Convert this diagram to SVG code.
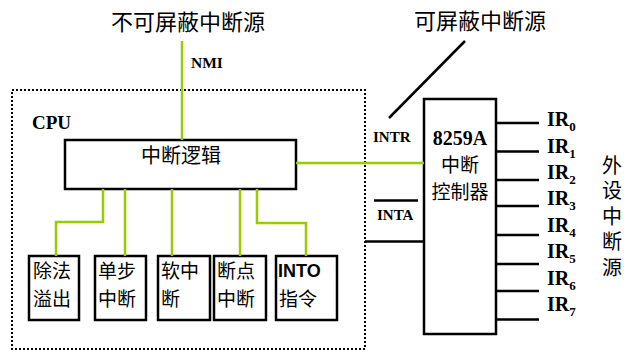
<svg xmlns="http://www.w3.org/2000/svg" width="632" height="357" viewBox="0 0 632 357">
<style>
.cjk{font-family:"Noto Sans CJK SC","Noto Sans",sans-serif;fill:#000}
.ser{font-family:"Liberation Serif",serif;font-weight:bold;fill:#000}
.box{fill:none;stroke:#000;stroke-width:2.5}
.g{fill:none;stroke:#99cc00;stroke-width:2.5}
.k{fill:none;stroke:#000;stroke-width:2.5}
.bt{font-size:19px}
</style>
<rect width="632" height="357" fill="#fff"/>
<g id="cpu-frame">
<rect x="12" y="90" width="353" height="259" fill="none" stroke="#000" stroke-width="2" stroke-dasharray="2,2"/>
<text class="ser" x="32" y="129" font-size="19">CPU</text>
</g>
<g id="nmi-source"><text class="cjk" x="188" y="30" font-size="22" text-anchor="middle">不可屏蔽中断源</text></g>
<g id="mask-source"><text class="cjk" x="480" y="29" font-size="22" text-anchor="middle">可屏蔽中断源</text></g>
<g id="logic">
<rect class="box" x="65" y="140" width="231" height="49" fill="#fff"/>
<text class="cjk" x="181" y="163" font-size="20" text-anchor="middle">中断逻辑</text>
</g>
<g id="pic">
<rect class="box" x="424" y="99" width="72" height="235"/>
<text class="ser" x="460" y="145" font-size="20" text-anchor="middle">8259A</text>
<text class="cjk" x="460" y="171.5" font-size="19" text-anchor="middle">中断</text>
<text class="cjk" x="460" y="199" font-size="19" text-anchor="middle">控制器</text>
</g>
<g id="b1"><rect class="box" x="29" y="256" width="50" height="64"/>
<text class="cjk bt" x="33" y="278">除法</text><text class="cjk bt" x="33" y="305.5">溢出</text></g>
<g id="b2"><rect class="box" x="95" y="256" width="51" height="64"/>
<text class="cjk bt" x="98" y="278">单步</text><text class="cjk bt" x="98" y="305.5">中断</text></g>
<g id="b3"><rect class="box" x="158" y="256" width="52" height="64"/>
<text class="cjk bt" x="161" y="278">软中</text><text class="cjk bt" x="161" y="305.5">断</text></g>
<g id="b4"><rect class="box" x="214" y="256" width="52" height="64"/>
<text class="cjk bt" x="217" y="278">断点</text><text class="cjk bt" x="217" y="305.5">中断</text></g>
<g id="b5"><rect class="box" x="276" y="256" width="61" height="64"/>
<text x="278" y="277" font-size="18" font-family="Liberation Sans,sans-serif" font-weight="bold">INTO</text><text class="cjk bt" x="279" y="305.5">指令</text></g>
<g id="ext"><text class="cjk" x="612" y="155" font-size="20" writing-mode="vertical-rl" letter-spacing="5.5">外设中断源</text></g>
<g id="connectors">
<path class="g" d="M182 41V140"/>
<path class="g" d="M296 163H424"/>
<path class="g" d="M103 189V222H56V256"/>
<path class="g" d="M125 189V256"/>
<path class="g" d="M172 189V256"/>
<path class="g" d="M240 189V256"/>
<path class="g" d="M257 189V223H306V256"/>
<path class="k" d="M389 118L465 41"/>
<path class="k" d="M365 241.5H424"/>
<path class="k" d="M374 200.5H418" stroke-width="2"/>
<path class="k" d="M497 123H539M497 151.5H539M497 180H539M497 206H539M497 235H539M497 264H539M497 291H539M497 319.5H539"/>
<text class="ser" x="191" y="68" font-size="15.5">NMI</text>
<text class="ser" x="373" y="142" font-size="15">INTR</text>
<text class="ser" x="377" y="220" font-size="15">INTA</text>
</g>
<g id="ir-labels" class="ser" font-size="20">
<text x="547" y="126">IR<tspan font-size="13" dy="5">0</tspan></text>
<text x="547" y="153">IR<tspan font-size="13" dy="5">1</tspan></text>
<text x="547" y="179">IR<tspan font-size="13" dy="5">2</tspan></text>
<text x="547" y="205">IR<tspan font-size="13" dy="5">3</tspan></text>
<text x="547" y="232">IR<tspan font-size="13" dy="5">4</tspan></text>
<text x="547" y="258">IR<tspan font-size="13" dy="5">5</tspan></text>
<text x="547" y="285">IR<tspan font-size="13" dy="5">6</tspan></text>
<text x="547" y="311">IR<tspan font-size="13" dy="5">7</tspan></text>
</g>
</svg>
